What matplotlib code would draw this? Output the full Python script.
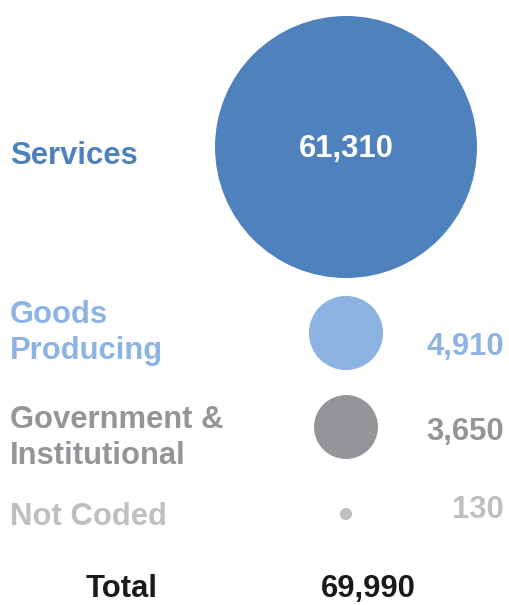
import matplotlib
matplotlib.use("Agg")
import matplotlib.pyplot as plt
from matplotlib.patches import Circle
import numpy as np

categories = ["Services", "Goods\nProducing", "Government &\nInstitutional", "Not Coded"]
values = [61310, 4910, 3650, 130]
total_label = "Total"
total_value = 69990
colors = ["#4F81BD", "#8DB3E2", "#939598", "#BFBFBF"]

plt.rcParams['font.family'] = ['Liberation Sans', 'DejaVu Sans']

fig = plt.figure(figsize=(5.10, 6.05), dpi=100)
ax = fig.add_axes([0, 0, 1, 1])
ax.set_xlim(0, 510)
ax.set_ylim(605, 0)
ax.set_aspect('equal')
ax.axis('off')

cx = 346
cy = [147, 333, 427, 514]
label_y = [156, 333, 438, 517]
value_y = [149, 347, 432, 510]
rmax = 131
fs = 22.3

for i, (cat, v, c) in enumerate(zip(categories, values, colors)):
    r = rmax * np.sqrt(v / max(values))
    ax.add_patch(Circle((cx, cy[i]), r, facecolor=c, edgecolor='none'))
    ax.text(10, label_y[i], cat, color=c, fontsize=fs, fontweight='bold',
            ha='left', va='center', linespacing=1.22)
    if i == 0:
        ax.text(cx, value_y[i], f"{v:,}", color='white', fontsize=fs,
                fontweight='bold', ha='center', va='center')
    else:
        ax.text(504, value_y[i], f"{v:,}", color=c, fontsize=fs,
                fontweight='bold', ha='right', va='center')

ax.text(122, 589, total_label, color='#1a1a1a', fontsize=fs, fontweight='bold',
        ha='center', va='center')
ax.text(368, 589, f"{total_value:,}", color='#1a1a1a', fontsize=fs,
        fontweight='bold', ha='center', va='center')

fig.savefig("out.png", dpi=100)
